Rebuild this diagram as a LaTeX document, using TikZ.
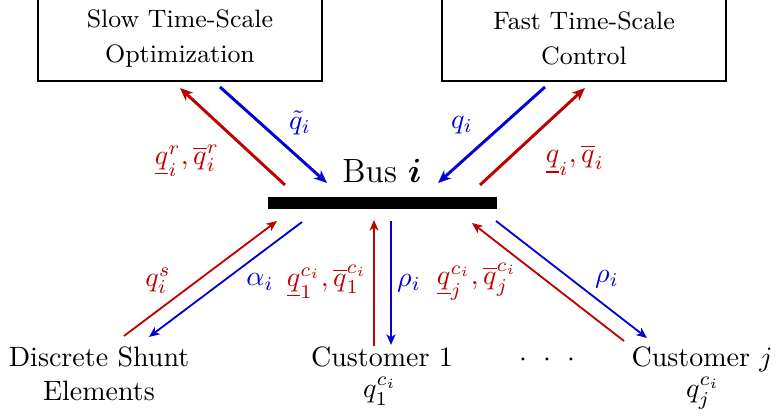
\documentclass[tikz,border=0pt]{standalone}
\usepackage{amsmath}
\usetikzlibrary{arrows.meta}
\definecolor{cred}{RGB}{190,0,0}
\definecolor{cblue}{RGB}{0,0,215}
\begin{document}
\begin{tikzpicture}[x=0.3571pt,y=-0.3571pt,
  thickarrow/.style={line width=1.05pt,-{Stealth[length=4.6pt,width=3.8pt,inset=1.3pt]}},
  thinarrow/.style={line width=0.65pt,-{Stealth[length=3.8pt,width=3.2pt,inset=1.1pt]}},
  boxline/.style={draw, line width=0.6pt},
  boxtext/.style={font=\small, align=center, inner sep=0pt},
  lbl/.style={inner sep=0pt},
  rlbl/.style={lbl, text=cred},
  blbl/.style={lbl, text=cblue},
  plaintext/.style={inner sep=0pt},
  busbar/.style={fill=black, inner sep=0pt, minimum width=81.8pt, minimum height=4.29pt}]
\clip (0,0) rectangle (778,417);

% top boxes
\draw[boxline] (38,-20) rectangle (322,81);
\draw[boxline] (442,-20) rectangle (726,81);
\node[boxtext] (slow) at (180,39) {Slow Time-Scale\\[1.5pt]Optimization};
\node[boxtext] (fast) at (584,38) {Fast Time-Scale\\[1.5pt]Control};

% bus
\node[busbar] (bus) at (382.5,203) {};
\node[plaintext, anchor=base, font=\large] (buslabel) at (382,183) {Bus $\boldsymbol{i}$};

% bottom texts
\node[plaintext, align=center] (shunt) at (99,374) {Discrete Shunt\\Elements};
\node[plaintext, anchor=base] (cust1) at (382,367) {Customer 1};
\node[plaintext, anchor=base] (cust1q) at (380,398) {$q_1^{c_i}$};
\node[plaintext] (dots) at (547,360) {$\cdot\hspace{3.6pt}\cdot\hspace{3.6pt}\cdot$};
\node[plaintext, anchor=base] (custj) at (702,367) {Customer $j$};
\node[plaintext, anchor=base] (custjq) at (703,398) {$q_j^{c_i}$};

% arrow end coordinates
\coordinate (r1s) at (285,185); \coordinate (r1e) at (180,88);
\coordinate (b1s) at (220,87);  \coordinate (b1e) at (327,183);
\coordinate (b2s) at (545,87);  \coordinate (b2e) at (438,183);
\coordinate (r2s) at (480,185); \coordinate (r2e) at (585,88);
\coordinate (r3s) at (124,336); \coordinate (r3e) at (277,221);
\coordinate (b3s) at (302,222); \coordinate (b3e) at (149,337);
\coordinate (r4s) at (374,346); \coordinate (r4e) at (374,220);
\coordinate (b4s) at (391,221); \coordinate (b4e) at (391,345);
\coordinate (r5s) at (624,341); \coordinate (r5e) at (472,223);
\coordinate (b5s) at (496,221); \coordinate (b5e) at (647,338);

% top arrows
\draw[thickarrow, cred] (r1s) -- (r1e);
\draw[thickarrow, cblue] (b1s) -- (b1e);
\draw[thickarrow, cblue] (b2s) -- (b2e);
\draw[thickarrow, cred] (r2s) -- (r2e);

% bottom arrows
\draw[thinarrow, cred] (r3s) -- (r3e);
\draw[thinarrow, cblue] (b3s) -- (b3e);
\draw[thinarrow, cred] (r4s) -- (r4e);
\draw[thinarrow, cblue] (b4s) -- (b4e);
\draw[thinarrow, cred] (r5s) -- (r5e);
\draw[thinarrow, cblue] (b5s) -- (b5e);

% labels
\node[blbl] (lqt) at (300,123) {$\tilde{q}_i$};
\node[blbl] (lqi) at (462,125) {$q_i$};
\node[rlbl] (lqr) at (187,161) {$\underline{q}_i^r,\overline{q}_i^r$};
\node[rlbl] (lqb) at (575,160) {$\underline{q}_i,\overline{q}_i$};
\node[rlbl] (lqs) at (158,281) {$q_i^s$};
\node[blbl] (lal) at (260,282) {$\alpha_i$};
\node[rlbl] (lq1) at (327,282) {$\underline{q}_1^{c_i},\overline{q}_1^{c_i}$};
\node[blbl] (lr1) at (409,283) {$\rho_i$};
\node[rlbl] (lqj) at (477,282) {$\underline{q}_j^{c_i},\overline{q}_j^{c_i}$};
\node[blbl] (lrj) at (607,279) {$\rho_i$};
\end{tikzpicture}
\end{document}
